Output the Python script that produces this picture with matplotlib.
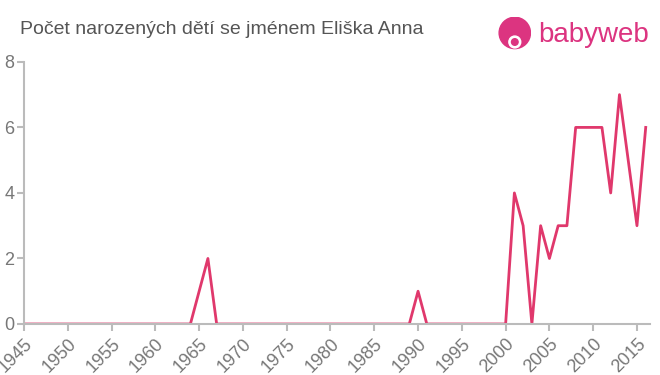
import matplotlib
matplotlib.use("Agg")
import matplotlib.pyplot as plt
from matplotlib.patches import Circle

plt.rcParams['font.family'] = ['Liberation Sans', 'DejaVu Sans']

# Data
years = list(range(1945, 2017))
nonzero = {1965: 1, 1966: 2, 1990: 1,
           2001: 4, 2002: 3, 2003: 0, 2004: 3, 2005: 2, 2006: 3, 2007: 3,
           2008: 6, 2009: 6, 2010: 6, 2011: 6, 2012: 4, 2013: 7, 2014: 5,
           2015: 3, 2016: 6}
counts = [nonzero.get(y, 0) for y in years]
xticks = list(range(1945, 2016, 5))
yticks = [0, 2, 4, 6, 8]

line_col = '#e0386c'
axis_col = '#bbbbbb'
text_col = '#777777'

fig = plt.figure(figsize=(6.6, 3.75), dpi=100)
ax = fig.add_axes([0.0364, 0.136, 0.9486, 0.699])
ax.plot(years, counts, color=line_col, lw=2)

ax.set_xlim(1945, 2016.5)
ax.set_ylim(0, 8)
ax.set_xticks(xticks)
ax.set_xticklabels([str(t) for t in xticks], rotation=45, ha='right',
                   rotation_mode='anchor', fontsize=13, color=text_col)
ax.set_yticks(yticks)
ax.set_yticklabels([str(t) for t in yticks], fontsize=13, color=text_col)
ax.tick_params(axis='both', color=axis_col, length=5, width=1.5)
ax.tick_params(axis='x', pad=3)
ax.tick_params(axis='y', pad=2)
for s in ['top', 'right']:
    ax.spines[s].set_visible(False)
for s in ['left', 'bottom']:
    ax.spines[s].set_color(axis_col)
    ax.spines[s].set_linewidth(1.5)

fig.text(0.03, 0.92, 'Počet narozených dětí se jménem Eliška Anna',
         fontsize=14, color='#555555', va='center')

# logo
logo_col = '#dc3480'
ax_logo = fig.add_axes([0.755, 0.86, 0.05, 0.1])
ax_logo.set_xlim(-1, 1)
ax_logo.set_ylim(-1, 1)
ax_logo.set_aspect('equal')
ax_logo.axis('off')
ax_logo.add_patch(Circle((0, 0.05), 0.95, color=logo_col))
ax_logo.add_patch(Circle((0, -0.5), 0.36, color='white'))
ax_logo.add_patch(Circle((0, -0.5), 0.2, color=logo_col))
fig.text(0.815, 0.908, 'babyweb', fontsize=20, color=logo_col, va='center')

fig.savefig('out.png', dpi=100)
